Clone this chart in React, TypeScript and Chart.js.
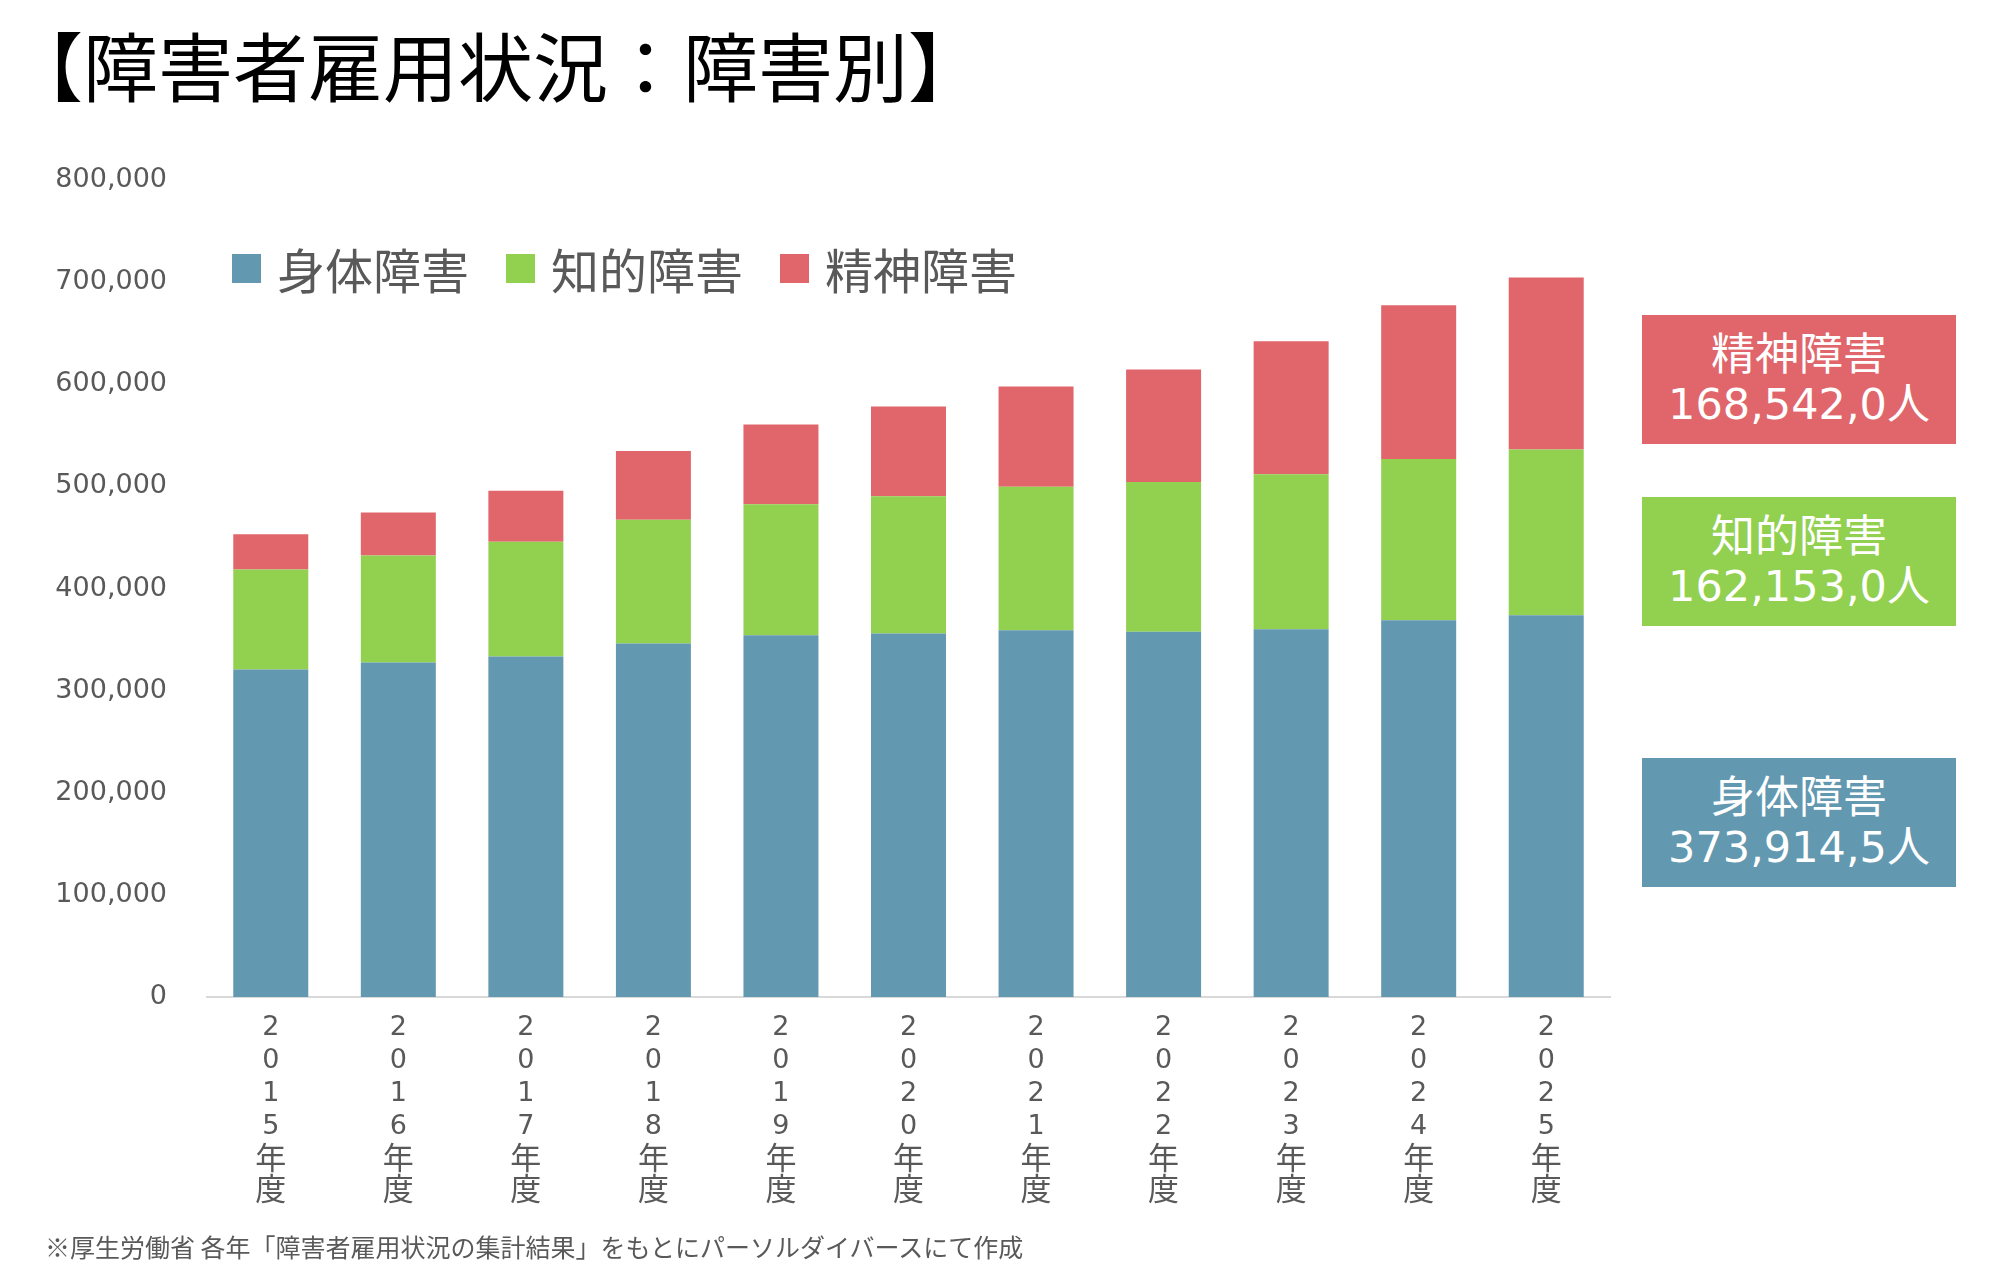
import React, { useEffect, useRef } from "react";
import { Chart, registerables } from "chart.js";

Chart.register(...registerables);

// 年度ごとの雇用障害者数（人）
const years = ["2015", "2016", "2017", "2018", "2019", "2020", "2021", "2022", "2023", "2024", "2025"];
const physical = [320750, 327600, 333450, 346200, 354150, 356050, 359050, 357750, 360150, 368950, 373914.5];
const intellectual = [97750, 104750, 112300, 121150, 128400, 134200, 140650, 146450, 151700, 157800, 162153];
const mental = [34650, 42050, 50050, 67400, 78100, 88000, 98050, 110300, 130150, 150700, 168542];

const seriesNames = ["身体障害", "知的障害", "精神障害"];
const seriesColors = ["#6298B0", "#92D050", "#E0666B"];

const yMax = 800000;
const yStep = 100000;

const FONT = "'Noto Sans CJK JP', 'Noto Sans', sans-serif";
// 数字はメイリオ風に幅広のもの
const NUM_FONT = "'DejaVu Sans', 'Noto Sans CJK JP', sans-serif";
const GRAY = "#595959";

// 最新年度の値を「373,914,5人」の形に
const fmtPeople = (v: number) => {
  const whole = Math.floor(v);
  const dec = Math.round((v - whole) * 10);
  return whole.toLocaleString("en-US") + "," + dec + "人";
};

const App = () => {
  const chartRef = useRef<HTMLCanvasElement>(null);
  const chartInstance = useRef<Chart | null>(null);

  useEffect(() => {
    document.body.style.margin = "0";

    const data = {
      // 縦書き風に1文字ずつ改行（数字部分）
      labels: years.map((y) => y.split("")),
      datasets: [physical, intellectual, mental].map((values, i) => ({
        label: seriesNames[i],
        data: values,
        backgroundColor: seriesColors[i],
        borderWidth: 0,
        barPercentage: 0.588,
        categoryPercentage: 1,
      })),
    };

    const config: any = {
      type: "bar",
      data,
      options: {
        responsive: false,
        animation: false,
        layout: {
          autoPadding: false,
          padding: { top: 180, right: 390, bottom: 0, left: 0 },
        },
        plugins: {
          legend: { display: false },
          tooltip: { enabled: false },
        },
        scales: {
          x: {
            stacked: true,
            weight: 0,
            grid: { display: false, drawTicks: false },
            border: { display: true, color: "#D9D9D9", width: 2 },
            ticks: {
              color: GRAY,
              font: { family: NUM_FONT, size: 27, lineHeight: 1.22 },
              padding: 15,
              maxRotation: 0,
              minRotation: 0,
              autoSkip: false,
            },
            afterFit: (s: any) => {
              s.height = 144;
            },
          },
          // 「年度」の2行は和文フォントで別の軸に
          x2: {
            type: "category",
            position: "bottom",
            weight: 1,
            offset: true,
            labels: years.map(() => ["年", "度"]),
            grid: { display: false, drawTicks: false },
            border: { display: false },
            ticks: {
              color: GRAY,
              font: { family: FONT, size: 31, lineHeight: 1 },
              padding: 1,
              maxRotation: 0,
              minRotation: 0,
              autoSkip: false,
            },
            afterFit: (s: any) => {
              s.height = 140;
            },
          },
          y: {
            stacked: true,
            min: 0,
            max: yMax,
            grid: { display: false, drawTicks: false },
            border: { display: false },
            ticks: {
              stepSize: yStep,
              color: GRAY,
              font: { family: NUM_FONT, size: 27 },
              padding: 40,
              callback: (v: any) => Number(v).toLocaleString("en-US"),
            },
            afterFit: (s: any) => {
              s.width = 207;
            },
          },
        },
      },
    };

    if (chartInstance.current) {
      chartInstance.current.destroy();
    }
    if (chartRef.current) {
      chartInstance.current = new Chart(chartRef.current, config);
    }

    return () => {
      if (chartInstance.current) {
        chartInstance.current.destroy();
        chartInstance.current = null;
      }
    };
  }, []);

  const last = years.length - 1;
  const sideBoxes = [
    { name: seriesNames[2], color: seriesColors[2], value: mental[last], top: 315 },
    { name: seriesNames[1], color: seriesColors[1], value: intellectual[last], top: 497 },
    { name: seriesNames[0], color: seriesColors[0], value: physical[last], top: 758 },
  ];

  return (
    <div
      style={{
        position: "relative",
        width: 2000,
        height: 1281,
        overflow: "hidden",
        background: "#fff",
        fontFamily: FONT,
      }}
    >
      <canvas ref={chartRef} width={2000} height={1281} style={{ position: "absolute", left: 0, top: 0 }}></canvas>

      {/* タイトル */}
      <div
        style={{
          position: "absolute",
          left: 8,
          top: 26,
          fontSize: 75,
          lineHeight: 1,
          color: "#000",
          whiteSpace: "nowrap",
        }}
      >
        【障害者雇用状況：障害別】
      </div>

      {/* 凡例 */}
      <div
        style={{
          position: "absolute",
          left: 232,
          top: 244,
          display: "flex",
          alignItems: "center",
          height: 48,
        }}
      >
        {seriesNames.map((name, i) => (
          <div key={name} style={{ display: "flex", alignItems: "center", marginRight: 37 }}>
            <div style={{ width: 29, height: 29, background: seriesColors[i], marginRight: 16 }}></div>
            <span style={{ fontSize: 48, lineHeight: 1, color: GRAY, whiteSpace: "nowrap" }}>{name}</span>
          </div>
        ))}
      </div>

      {/* 右側の最新値ボックス */}
      {sideBoxes.map((b) => (
        <div
          key={b.name}
          style={{
            position: "absolute",
            left: 1642,
            top: b.top,
            width: 314,
            height: 129,
            background: b.color,
            color: "#fff",
            fontSize: 44,
            lineHeight: "53px",
            textAlign: "center",
            paddingTop: 10,
            boxSizing: "border-box",
            whiteSpace: "nowrap",
          }}
        >
          <div>{b.name}</div>
          <div style={{ fontFamily: NUM_FONT, fontSize: 43 }}>{fmtPeople(b.value)}</div>
        </div>
      ))}

      {/* 出典 */}
      <div
        style={{
          position: "absolute",
          left: 45,
          top: 1234,
          fontSize: 25,
          lineHeight: 1,
          color: GRAY,
          whiteSpace: "nowrap",
        }}
      >
        ※厚生労働省 各年「障害者雇用状況の集計結果」をもとにパーソルダイバースにて作成
      </div>
    </div>
  );
};

export default App;
